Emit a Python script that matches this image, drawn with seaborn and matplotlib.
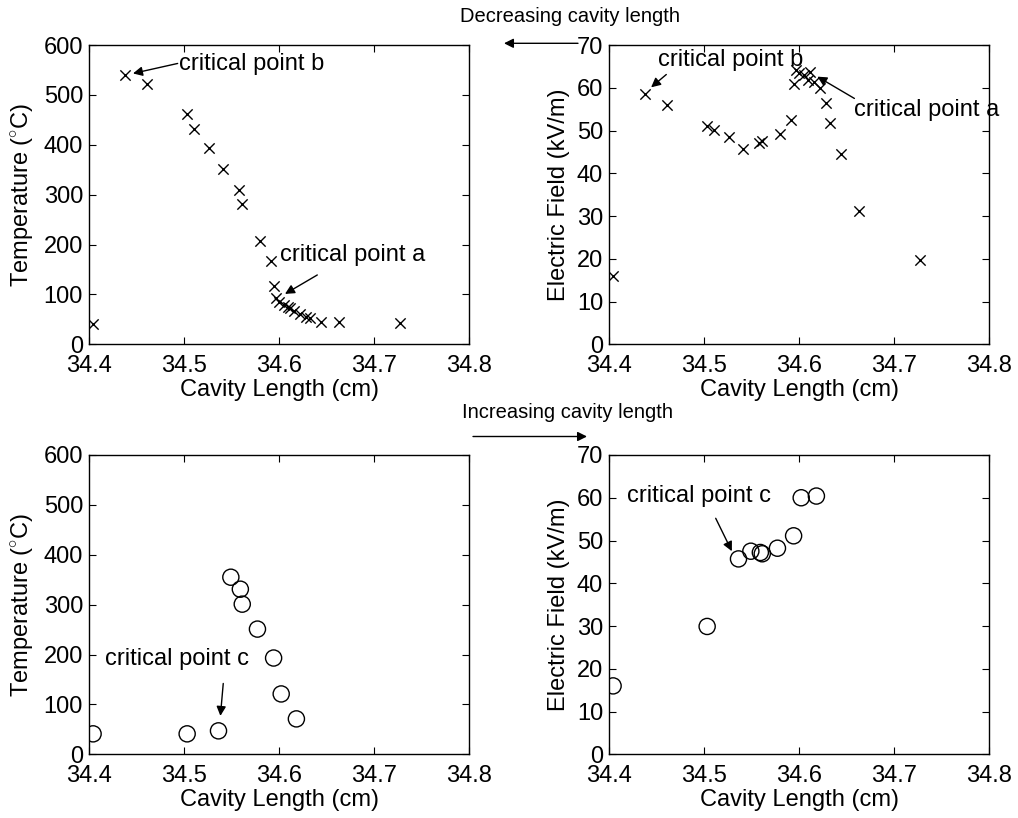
# Cavity length scans: temperature and electric field
# top row: decreasing cavity length, bottom row: increasing

import matplotlib
matplotlib.use("Agg")
import matplotlib.pyplot as plt
import seaborn as sns
import pandas as pd

# -----------------------------------------
# Data
# -----------------------------------------
longitud_dec = [34.404, 34.438, 34.461, 34.503, 34.510, 34.526, 34.541, 34.558,
                34.561, 34.580, 34.591, 34.594, 34.596, 34.600, 34.605, 34.609,
                34.611, 34.615, 34.622, 34.628, 34.632, 34.644, 34.663, 34.727]
temp_dec = [41, 539, 522, 462, 431, 393, 351, 309, 282, 207, 167, 117,
            92, 84, 79, 75, 72, 67, 60, 54, 52, 45, 44, 42]
campo_dec = [16.0, 58.5, 56.0, 51.0, 50.1, 48.4, 45.7, 47.0, 47.6, 49.1, 52.4, 60.8,
             64.1, 63.4, 63.0, 61.8, 63.8, 61.4, 59.9, 56.5, 51.8, 44.5, 31.1, 19.8]

longitud_inc = [34.404, 34.503, 34.536, 34.549, 34.559, 34.561, 34.577, 34.594, 34.602, 34.618]
temp_inc = [41, 41, 47, 355, 331, 301, 251, 193, 121, 71]
campo_inc = [16.0, 29.9, 45.7, 47.5, 47.2, 46.9, 48.2, 51.1, 60.0, 60.4]

x_ticks = [34.4, 34.5, 34.6, 34.7, 34.8]
temp_ticks = [0, 100, 200, 300, 400, 500, 600]
campo_ticks = [0, 10, 20, 30, 40, 50, 60, 70]

df_dec = pd.DataFrame({"L": longitud_dec, "T": temp_dec, "E": campo_dec})
df_inc = pd.DataFrame({"L": longitud_inc, "T": temp_inc, "E": campo_inc})

# -----------------------------------------
# Style
# -----------------------------------------
sns.set_style("ticks")
plt.rcParams["font.family"] = ["Liberation Sans", "DejaVu Sans"]
plt.rcParams["mathtext.fontset"] = "custom"
plt.rcParams["mathtext.rm"] = "Liberation Sans"
for clave in ("text.color", "axes.labelcolor", "xtick.color", "ytick.color",
              "axes.edgecolor"):
    plt.rcParams[clave] = "black"
FS = 17

fig = plt.figure(figsize=(10.18, 8.18), dpi=100)
W, H = 1018, 818


def make_axes(left, top):
    return fig.add_axes([left / W, 1 - (top + 299.3) / H, 380 / W, 299.3 / H])


ax_tl = make_axes(89.3, 45)
ax_tr = make_axes(609.3, 45)
ax_bl = make_axes(89.3, 455)
ax_br = make_axes(609.3, 455)

sns.scatterplot(data=df_dec, x="L", y="T", marker="x", s=55, color="black",
                linewidth=1, ax=ax_tl)
sns.scatterplot(data=df_dec, x="L", y="E", marker="x", s=55, color="black",
                linewidth=1, ax=ax_tr)
sns.scatterplot(data=df_inc, x="L", y="T", marker="o", s=135, facecolor="none",
                edgecolor="black", linewidth=1, ax=ax_bl)
sns.scatterplot(data=df_inc, x="L", y="E", marker="o", s=135, facecolor="none",
                edgecolor="black", linewidth=1, ax=ax_br)

for ax, yticks in [(ax_tl, temp_ticks), (ax_tr, campo_ticks),
                   (ax_bl, temp_ticks), (ax_br, campo_ticks)]:
    ax.set_xlim(x_ticks[0], x_ticks[-1])
    ax.set_ylim(yticks[0], yticks[-1])
    ax.set_xticks(x_ticks)
    ax.set_yticks(yticks)
    ax.set_xticklabels([f"{v:g}" for v in x_ticks])
    ax.set_yticklabels([f"{v:g}" for v in yticks])
    ax.tick_params(direction="in", length=5, width=0.8, labelsize=FS,
                   top=True, right=True, colors="black")
    ax.tick_params(axis="x", pad=8)
    ax.tick_params(axis="y", pad=4.5)
    for sp in ax.spines.values():
        sp.set_linewidth(1.0)
        sp.set_color("black")
    ax.set_xlabel("Cavity Length (cm)", fontsize=FS, labelpad=1)

for ax in (ax_tl, ax_bl):
    ax.set_ylabel("Temperature ($^{\\circ}$C)", fontsize=FS, labelpad=5)
for ax in (ax_tr, ax_br):
    ax.set_ylabel("Electric Field (kV/m)", fontsize=FS, labelpad=5)

flecha = dict(arrowstyle="-|>", color="black", lw=1, mutation_scale=14,
              shrinkA=0, shrinkB=0)


def etiqueta(ax, texto, pos_texto, cola, punta):
    ax.text(pos_texto[0], pos_texto[1], texto, fontsize=FS, ha="left",
            va="center", clip_on=False)
    ax.annotate("", xy=punta, xytext=cola, arrowprops=flecha,
                annotation_clip=False)


etiqueta(ax_tl, "critical point b", (34.494, 562), (34.493, 563), (34.446, 543))
etiqueta(ax_tl, "critical point a", (34.601, 179), (34.640, 139), (34.606, 101))
etiqueta(ax_tr, "critical point b", (34.451, 66.6), (34.460, 63.1), (34.444, 60.1))
etiqueta(ax_tr, "critical point a", (34.658, 54.8), (34.658, 57.5), (34.619, 62.6))
etiqueta(ax_bl, "critical point c", (34.4165, 192), (34.541, 142), (34.538, 77))
etiqueta(ax_br, "critical point c", (34.419, 60.4), (34.512, 55.2), (34.529, 47.5))

# direction arrows between rows
fig.text(570.5 / W, 1 - 17 / H, "Decreasing cavity length", fontsize=14.5,
         ha="center", va="center")
ax_tl.annotate("", xy=(504 / W, 1 - 43.3 / H), xytext=(578 / W, 1 - 43.3 / H),
               xycoords="figure fraction", textcoords="figure fraction",
               arrowprops=flecha, annotation_clip=False)
fig.text(567.5 / W, 1 - 412 / H, "Increasing cavity length", fontsize=14.5,
         ha="center", va="center")
ax_tl.annotate("", xy=(587 / W, 1 - 436.5 / H), xytext=(473 / W, 1 - 436.5 / H),
               xycoords="figure fraction", textcoords="figure fraction",
               arrowprops=flecha, annotation_clip=False)

fig.savefig("out.png", dpi=100)
